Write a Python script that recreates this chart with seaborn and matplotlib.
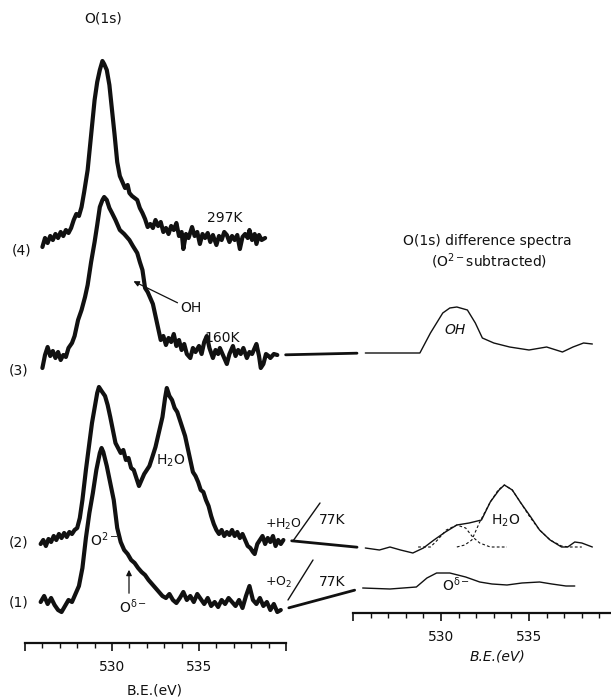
import numpy as np
import pandas as pd
import matplotlib
matplotlib.use("Agg")
import matplotlib.pyplot as plt
import seaborn as sns
from matplotlib.patches import ConnectionPatch, FancyArrowPatch
from matplotlib.lines import Line2D

# ---------------- O(1s) spectra (binding energy in eV, intensity in arb. units) ----------------
be_297K = [526.0, 526.15, 526.3, 526.45, 526.6, 526.75, 526.9, 527.05, 527.2, 527.35, 527.5, 527.65,
           527.8, 527.95, 528.1, 528.25, 528.4, 528.6, 528.8, 529.0, 529.15, 529.3, 529.45, 529.55,
           529.7, 529.85, 530.0, 530.15, 530.3, 530.45, 530.6, 530.75, 530.9, 531.0, 531.15, 531.3,
           531.45, 531.6, 531.75, 531.9, 532.05, 532.2, 532.35, 532.5, 532.65, 532.8, 532.95, 533.1,
           533.25, 533.4, 533.55, 533.7, 533.85, 534.0, 534.1, 534.25, 534.4, 534.6, 534.75, 534.9,
           535.05, 535.2, 535.35, 535.5, 535.65, 535.8, 536.0, 536.15, 536.3, 536.45, 536.6, 536.75,
           536.9, 537.05, 537.2, 537.35, 537.5, 537.65, 537.8, 537.9, 538.05, 538.2, 538.3, 538.45,
           538.6, 538.8]
int_297K = [-7, 2, -3, 4, 0, 6, 2, 8, 4, 10, 7, 12,
            20, 26, 24, 33, 48, 70, 105, 140, 158, 170, 179, 176,
            170, 155, 130, 105, 78, 64, 58, 52, 55, 47, 44, 42,
            40, 32, 27, 21, 13, 16, 12, 20, 14, 18, 8, 12,
            6, 14, 10, 17, 4, 8, -9, 6, 2, 13, 4, 8,
            -4, 6, 2, 7, -2, 5, -5, 4, 0, 8, 5, -2,
            4, 0, 5, -9, 3, 6, 2, 10, 0, 6, -4, 5,
            0, 2]

be_160K = [526.0, 526.15, 526.3, 526.45, 526.6, 526.75, 526.9, 527.05, 527.2, 527.35, 527.5, 527.7,
           527.85, 528.05, 528.25, 528.45, 528.6, 528.8, 529.0, 529.15, 529.3, 529.45, 529.55, 529.7,
           529.85, 530.0, 530.2, 530.45, 530.7, 531.0, 531.2, 531.45, 531.6, 531.75, 531.9, 532.05,
           532.2, 532.35, 532.5, 532.65, 532.8, 532.95, 533.1, 533.25, 533.4, 533.55, 533.7, 533.85,
           534.0, 534.15, 534.3, 534.5, 534.65, 534.8, 535.0, 535.15, 535.3, 535.45, 535.6, 535.8,
           535.95, 536.1, 536.2, 536.4, 536.6, 536.75, 536.95, 537.1, 537.25, 537.4, 537.55, 537.75,
           537.9, 538.05, 538.2, 538.3, 538.45, 538.55, 538.7, 538.85, 539.0, 539.1, 539.3, 539.5]
int_160K = [-8, 5, 13, 4, 9, 2, 8, 0, 5, 3, 12, 17,
            24, 40, 50, 63, 75, 98, 118, 135, 153, 160, 163, 160,
            152, 147, 140, 130, 126, 120, 114, 107, 98, 90, 72, 68,
            62, 56, 44, 32, 20, 24, 15, 22, 18, 26, 14, 20,
            10, 16, 6, 2, 12, 8, 14, 6, 18, 24, 12, 2,
            10, 6, 12, 4, -4, 6, 14, 4, 10, 6, 12, 2,
            8, 6, 12, 16, 4, -8, -4, 6, 4, 2, 6, 5]

be_h2o = [525.9, 526.05, 526.2, 526.35, 526.5, 526.65, 526.8, 526.95, 527.1, 527.25, 527.4, 527.55,
          527.7, 527.85, 528.0, 528.15, 528.3, 528.5, 528.7, 528.85, 529.0, 529.15, 529.25, 529.4,
          529.6, 529.75, 529.9, 530.05, 530.2, 530.35, 530.5, 530.65, 530.8, 530.95, 531.1, 531.25,
          531.4, 531.55, 531.7, 531.85, 532.0, 532.15, 532.3, 532.5, 532.7, 532.9, 533.05, 533.15,
          533.3, 533.45, 533.6, 533.75, 533.9, 534.05, 534.2, 534.35, 534.5, 534.65, 534.8, 534.95,
          535.1, 535.25, 535.4, 535.55, 535.7, 535.85, 536.0, 536.15, 536.3, 536.45, 536.6, 536.75,
          536.9, 537.05, 537.2, 537.35, 537.5, 537.65, 537.8, 537.95, 538.1, 538.2, 538.35, 538.5,
          538.65, 538.8, 538.95, 539.1, 539.25, 539.4, 539.55, 539.7, 539.85]
int_h2o = [4, 8, 2, 9, 6, 12, 8, 14, 10, 15, 11, 16,
           14, 18, 20, 30, 48, 78, 105, 125, 140, 155, 161, 157,
           152, 143, 131, 118, 105, 100, 95, 98, 88, 90, 80, 78,
           70, 62, 68, 74, 78, 82, 90, 101, 116, 131, 150, 160,
           152, 148, 140, 136, 128, 120, 112, 100, 88, 76, 72, 66,
           58, 56, 48, 42, 32, 24, 18, 14, 18, 12, 16, 13,
           18, 12, 16, 10, 14, 8, 2, 0, -4, -6, 4, 8,
           12, 4, 10, 6, 12, 2, 8, 4, 8]

be_o2 = [525.9, 526.1, 526.3, 526.5, 526.7, 526.9, 527.1, 527.3, 527.5, 527.7, 527.9, 528.1,
         528.3, 528.5, 528.7, 528.9, 529.1, 529.3, 529.4, 529.5, 529.7, 529.9, 530.1, 530.3,
         530.5, 530.7, 530.9, 531.1, 531.3, 531.5, 531.7, 531.9, 532.1, 532.3, 532.5, 532.7,
         532.9, 533.1, 533.3, 533.5, 533.7, 533.9, 534.1, 534.3, 534.5, 534.7, 534.9, 535.1,
         535.3, 535.5, 535.7, 535.9, 536.1, 536.3, 536.5, 536.7, 536.9, 537.1, 537.3, 537.5,
         537.7, 537.9, 538.1, 538.3, 538.5, 538.7, 538.9, 539.1, 539.3, 539.5, 539.7]
int_o2 = [6, 12, 4, 10, 3, -2, -4, 2, 8, 6, 14, 22,
          40, 70, 95, 115, 138, 155, 160, 156, 142, 125, 108, 80,
          66, 58, 54, 48, 45, 40, 36, 33, 28, 24, 20, 16,
          12, 10, 14, 8, 5, 10, 16, 8, 12, 6, 14, 9,
          4, 10, 2, 6, 1, 8, 4, 10, 6, 2, 8, 0,
          12, 22, 8, 4, 10, 2, 6, -2, 4, -4, -2]

# ---------------- difference spectra (O2- subtracted) ----------------
be_diff_oh = [525.7, 528.2, 528.8, 529.4, 530.1, 530.5, 530.9, 531.5, 531.95, 532.35, 533.0, 533.9,
              535.0, 536.0, 536.9, 537.5, 538.1, 538.6]
int_diff_oh = [0, 0, 0, 20, 40, 45, 46, 43, 30, 15, 10, 6,
               3, 6, 1, 6, 10, 9]

be_diff_h2o = [525.7, 526.5, 527.1, 527.7, 528.4, 529.0, 529.6, 530.25, 530.9, 531.6, 532.3, 532.8,
               533.3, 533.6, 534.05, 534.5, 535.1, 535.6, 536.2, 536.85, 537.2, 537.6, 538.0, 538.6]
int_diff_h2o = [0, -2, 1, -2, -5, 0, 8, 16, 23, 25, 28, 46,
                58, 63, 58, 46, 31, 18, 8, 1, 1, 6, 5, 1]

be_fit_low = [528.7, 529.4, 529.8, 530.3, 530.9, 531.4, 531.8, 532.2, 532.8, 533.75]
int_fit_low = [1, 1, 8, 18, 23, 20, 11, 5, 1, 1]

be_fit_high = [530.9, 531.35, 531.75, 532.2, 532.8, 533.25, 533.6, 534.05, 534.5, 535.05,
               535.6, 536.2, 536.85, 537.3, 538.0]
int_fit_high = [1, 3, 8, 26, 46, 58, 63, 58, 46, 31,
                18, 8, 2, 1, 1]

be_diff_o2 = [525.55, 527.1, 528.6, 529.2, 529.75, 530.5, 531.4, 532.2, 532.9, 533.75, 534.6, 535.6,
              536.3, 537.1, 537.6]
int_diff_o2 = [0, -1, 1, 10, 15, 15, 11, 6, 4, 3, 5, 6,
               4, 2, 2]

tick_major = [525, 530, 535, 540]
tick_labels = ["", "530", "535", ""]
tick_minor = list(range(525, 541))

# ---------------- figure ----------------
sns.set_theme(style="white")
plt.rcParams["font.family"] = ["DejaVu Sans"]
plt.rcParams["mathtext.default"] = "regular"

W, H = 611, 697
fig = plt.figure(figsize=(W / 100, H / 100), dpi=100)
fig.patch.set_facecolor("white")


def fx(x):
    return x / W


def fy(y):
    return 1 - y / H


INK = "#111111"
FS = 10

# left panel: 1 data unit in y == 1 pixel
axL = fig.add_axes([fx(25), fy(643), fx(286) - fx(25), fy(0) - fy(643)])
axR = fig.add_axes([fx(353), fy(613), (617 - 353) / W, fy(0) - fy(613)])
for ax, top in ((axL, 643), (axR, 613)):
    ax.set_facecolor("none")
    ax.set_xlim(525, 540)
    ax.set_ylim(0, top)
    for s in ("left", "right", "top"):
        ax.spines[s].set_visible(False)
    ax.spines["bottom"].set_color(INK)
    ax.spines["bottom"].set_linewidth(1.6)
    ax.set_yticks([])
    ax.set_xticks(tick_major)
    ax.set_xticklabels(tick_labels)
    ax.set_xticks(tick_minor, minor=True)
    ax.tick_params(axis="x", which="major", direction="out", length=5.5, width=1.2,
                   color=INK, labelsize=FS, pad=7, labelcolor=INK, bottom=True)
    ax.tick_params(axis="x", which="minor", direction="out", length=3.5, width=1.0,
                   color=INK, bottom=True)
    ax.grid(False)

left_traces = [
    ("(1)", be_o2, int_o2, 35),
    ("(2)", be_h2o, int_h2o, 95),
    ("(3)", be_160K, int_160K, 283),
    ("(4)", be_297K, int_297K, 403),
]
left_df = pd.concat(
    [pd.DataFrame({"be": b, "y": np.asarray(i, float) + off, "trace": n}) for n, b, i, off in left_traces]
)
for n, grp in left_df.groupby("trace"):
    sns.lineplot(data=grp, x="be", y="y", ax=axL, color=INK, lw=3.0, sort=False,
                 estimator=None, legend=False)

right_traces = [
    ("dO2", be_diff_o2, int_diff_o2, 25, "-"),
    ("dH2O", be_diff_h2o, int_diff_h2o, 65, "-"),
    ("dOH", be_diff_oh, int_diff_oh, 260, "-"),
]
for n, b, i, off, ls in right_traces:
    d = pd.DataFrame({"be": b, "y": np.asarray(i, float) + off})
    sns.lineplot(data=d, x="be", y="y", ax=axR, color=INK, lw=1.0, legend=False, estimator=None)

for b, i in ((be_fit_low, int_fit_low), (be_fit_high, int_fit_high)):
    d = pd.DataFrame({"be": b, "y": np.asarray(i, float) + 65})
    sns.lineplot(data=d, x="be", y="y", ax=axR, color=INK, lw=0.8, legend=False,
                 estimator=None, linestyle=(0, (2.5, 2)))

for ax in (axL, axR):
    ax.set_xlabel("")
    ax.set_ylabel("")

# leader lines from each low-temperature spectrum to its difference spectrum
pairs = [
    ((be_o2[-1], int_o2[-1] + 35), (be_diff_o2[0], int_diff_o2[0] + 25)),
    ((be_h2o[-1], int_h2o[-1] + 95), (be_diff_h2o[0], int_diff_h2o[0] + 65)),
    ((be_160K[-1], int_160K[-1] + 283), (be_diff_oh[0], int_diff_oh[0] + 260)),
]
for a, b in pairs:
    con = ConnectionPatch(xyA=a, coordsA=axL.transData, xyB=b, coordsB=axR.transData,
                          color=INK, lw=2.0, shrinkA=6, shrinkB=6)
    fig.add_artist(con)


def label(x, y, s, **kw):
    kw.setdefault("fontsize", FS)
    kw.setdefault("ha", "center")
    kw.setdefault("va", "center")
    fig.text(fx(x), fy(y), s, color=INK, **kw)


def seg(x0, y0, x1, y1, lw=1.0):
    fig.add_artist(Line2D([fx(x0), fx(x1)], [fy(y0), fy(y1)], transform=fig.transFigure,
                          color=INK, lw=lw))


def arrow(x0, y0, x1, y1):
    fig.add_artist(FancyArrowPatch((fx(x0), fy(y0)), (fx(x1), fy(y1)), transform=fig.transFigure,
                                   arrowstyle="-|>", mutation_scale=8, color=INK, lw=0.9))


# left panel annotations
label(103, 18, "O(1s)")
label(22, 250, "(4)")
label(19, 370, "(3)")
label(19, 543, "(2)")
label(19, 603, "(1)")
label(225, 218, "297K")
label(222, 338, "160K")
label(191, 308, "OH")
arrow(180, 304, 131, 280)
label(171, 461, "H$_2$O")
label(104, 540, "O$^{2-}$")
label(133, 607, "O$^{\\delta-}$")
arrow(129, 596, 129, 567)
label(284, 524, "+H$_2$O", fontsize=9)
seg(293, 541, 320, 503)
label(332, 520, "77K")
label(279, 582, "+O$_2$", fontsize=9)
seg(288, 600, 313, 560)
label(332, 582, "77K")
label(155, 690, "B.E.(eV)")

# right panel annotations
label(487, 241, "O(1s) difference spectra")
label(489, 261, "(O$^{2-}$subtracted)")
label(455, 330, "OH", style="italic")
label(506, 521, "H$_2$O")
label(456, 585, "O$^{\\delta-}$")
label(497, 657, "B.E.(eV)", style="italic")

fig.savefig("out.png", dpi=100, facecolor="white")
